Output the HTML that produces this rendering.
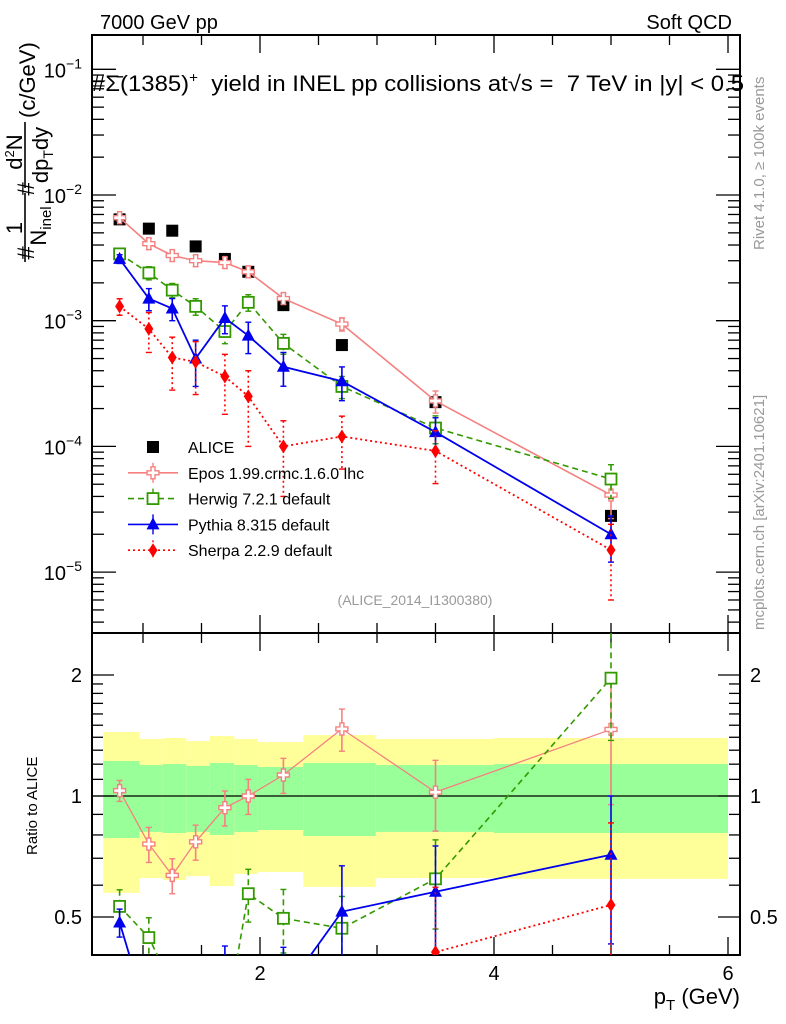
<!DOCTYPE html>
<html><head><meta charset="utf-8"><style>
html,body{margin:0;padding:0;background:#fff;overflow:hidden;width:786px;height:1024px;}
svg{display:block;font-family:"Liberation Sans",sans-serif;}
</style></head><body>
<svg id="chart" width="786" height="1024" viewBox="0 0 786 1024" xmlns="http://www.w3.org/2000/svg">
<text x="100" y="29" font-size="20">7000 GeV pp</text>
<text x="732" y="29" font-size="20" text-anchor="end">Soft QCD</text>
<text x="92" y="91" font-size="22" xml:space="preserve" textLength="652" lengthAdjust="spacingAndGlyphs">#Σ̄(1385)<tspan dy="-9" font-size="14">+</tspan><tspan dy="9">  yield in INEL pp collisions at√s =  7 TeV in |y| &lt; 0.5</tspan></text>
<text transform="translate(764,250) rotate(-90)" font-size="15" fill="#999">Rivet 4.1.0, ≥ 100k events</text>
<text transform="translate(764,630) rotate(-90)" font-size="15" fill="#999">mcplots.cern.ch [arXiv:2401.10621]</text>
<text x="415" y="605" font-size="14" fill="#999" text-anchor="middle">(ALICE_2014_I1300380)</text>
<g transform="rotate(-90)">
<text x="-253" y="34" font-size="24" text-anchor="middle">#</text>
<text x="-228" y="22" font-size="22" text-anchor="middle">1</text>
<line x1="-262" x2="-193" y1="25" y2="25" stroke="#000" stroke-width="1.6"/>
<text x="-226" y="46" font-size="22" text-anchor="middle">N<tspan font-size="15" dy="5">inel</tspan></text>
<text x="-189" y="34" font-size="24" text-anchor="middle">#</text>
<text x="-152" y="22" font-size="22" text-anchor="middle">d<tspan dy="-8" font-size="13">2</tspan><tspan dy="8">N</tspan></text>
<line x1="-188" x2="-122" y1="25" y2="25" stroke="#000" stroke-width="1.6"/>
<text x="-155" y="48" font-size="22" text-anchor="middle">dp<tspan dy="5" font-size="14">T</tspan><tspan dy="-5">dy</tspan></text>
<text x="-118" y="35" font-size="22">(c/GeV)</text>
</g>
<text transform="translate(37,855) rotate(-90)" font-size="15">Ratio to ALICE</text>
<text x="740" y="1004" font-size="22" text-anchor="end">p<tspan dy="6" font-size="15">T</tspan><tspan dy="-6"> (GeV)</tspan></text>
<g id="plots"></g>
</svg>
<script>
const pT = [0.8,1.05,1.25,1.45,1.7,1.9,2.2,2.7,3.5,5.0];
const binEdges = [0.66,0.97,1.17,1.37,1.57,1.78,1.98,2.37,2.99,4.0,6.0];
const alice = [6.4e-3,5.4e-3,5.2e-3,3.9e-3,3.1e-3,2.45e-3,1.33e-3,6.4e-4,2.25e-4,2.8e-5];
const epos = [6.6e-3,4.1e-3,3.3e-3,3.0e-3,2.9e-3,2.45e-3,1.5e-3,9.4e-4,2.3e-4,4.1e-5];
const eposErr = [0.06,0.1,0.1,0.1,0.1,0.1,0.1,0.12,0.2,0.35];
const herwig = [3.4e-3,2.4e-3,1.75e-3,1.3e-3,8.2e-4,1.4e-3,6.6e-4,3.0e-4,1.4e-4,5.5e-5];
const herwigErr = [0.1,0.12,0.13,0.15,0.2,0.15,0.18,0.2,0.25,0.3];
const pythia = [3.1e-3,1.5e-3,1.25e-3,5.0e-4,1.05e-3,7.6e-4,4.3e-4,3.3e-4,1.3e-4,2.0e-5];
const pythiaErr = [0.08,0.2,0.2,0.4,0.25,0.28,0.3,0.3,0.3,0.4];
const sherpa = [1.3e-3,8.6e-4,5.1e-4,4.7e-4,3.6e-4,2.5e-4,1.0e-4,1.2e-4,9.2e-5,1.5e-5];
const sherpaErr = [0.15,0.35,0.45,0.45,0.5,0.6,0.6,0.45,0.45,0.6];
const greenHi = [1.222,1.194,1.201,1.188,1.208,1.194,1.181,1.208,1.194,1.201];
const greenLo = [0.786,0.814,0.809,0.814,0.800,0.814,0.823,0.795,0.814,0.809];
const yellowHi = [1.443,1.386,1.394,1.370,1.410,1.386,1.362,1.418,1.386,1.394];
const yellowLo = [0.574,0.625,0.618,0.632,0.597,0.640,0.647,0.594,0.625,0.622];
const xTickLabels = ["2","4","6"];
const yTickLabels = ["10","10","10","10","10"];
const ratioTickLabels = ["0.5","1","2"];

const NS="http://www.w3.org/2000/svg";
const L=92,R=740,T=35,MB=633,RB=955;
const X=v=>26+117*v;
const Y=v=>195-125.7*(Math.log10(v)+2);
const RY=v=>796-121*Math.log2(v);
const root=document.getElementById('plots');
function mk(tag,attrs,parent){const e=document.createElementNS(NS,tag);for(const k in attrs)e.setAttribute(k,attrs[k]);(parent||root).appendChild(e);return e;}

const defs=mk('defs',{});
const c1=mk('clipPath',{id:'cm'},defs);mk('rect',{x:L,y:T,width:R-L,height:MB-T},c1);
const c2=mk('clipPath',{id:'cr'},defs);mk('rect',{x:L,y:MB,width:R-L,height:RB-MB},c2);

const bands=mk('g',{'clip-path':'url(#cr)'});


for(let i=0;i<pT.length;i++){
  const x1=X(binEdges[i]),x2=X(binEdges[i+1]);
  const yb=mk('rect',{x:x1,y:RY(yellowHi[i]),width:x2-x1,height:RY(yellowLo[i])-RY(yellowHi[i]),fill:'#ffff99'},bands);
  
  
  const gb=mk('rect',{x:x1,y:RY(greenHi[i]),width:x2-x1,height:RY(greenLo[i])-RY(greenHi[i]),fill:'#99ff99'},bands);
  
  
}
mk('line',{x1:L,x2:R,y1:RY(1),y2:RY(1),stroke:'#000','stroke-width':1.2});

function frame(top,bot,name){const f=mk('rect',{x:L,y:top,width:R-L,height:bot-top,fill:'none',stroke:'#000','stroke-width':2});}
const ax=mk('g',{stroke:'#000','stroke-width':1.3});


for(let v=0.5;v<=6.01;v+=0.5){
  const x=X(v); if(x<L||x>R)continue;
  const big=Math.abs(v/2-Math.round(v/2))<1e-6; const len=big?18:10;
  [[T,1],[MB,-1],[MB,1],[RB,-1]].forEach(([y,d])=>mk('line',{x1:x,x2:x,y1:y,y2:y+d*len},ax));
}
for(let e=-6;e<=-1;e++){for(let m=1;m<10;m++){const v=m*Math.pow(10,e);const y=Y(v);if(y<T||y>MB)continue;const len=m==1?24:12;
  mk('line',{x1:L,x2:L+len,y1:y,y2:y},ax);mk('line',{x1:R,x2:R-len,y1:y,y2:y},ax);}}
for(let i=0;i<=16;i++){const v=0.4+i*0.1;const y=RY(v);if(y<MB||y>RB)continue;const big=[0.5,1,2].some(b=>Math.abs(b-v)<1e-6);const len=big?22:11;
  mk('line',{x1:L,x2:L+len,y1:y,y2:y},ax);mk('line',{x1:R,x2:R-len,y1:y,y2:y},ax);}
frame(T,MB,'main-plot-frame');frame(MB,RB,'ratio-plot-frame');

[2,4,6].forEach((v,i)=>{const t=mk('text',{x:X(v),y:980,'font-size':20,'text-anchor':'middle'});t.textContent=xTickLabels[i];});
[-1,-2,-3,-4,-5].forEach((e,i)=>{const t=mk('text',{x:82,y:Y(Math.pow(10,e))+8,'font-size':20,'text-anchor':'end'});t.textContent=yTickLabels[i];
  const s=mk('tspan',{dy:-9,'font-size':14},t);s.textContent='−'+(-e);
  });
[0.5,1,2].forEach((v,i)=>{[[82,'end'],[750,'start']].forEach(([x,a])=>{const t=mk('text',{x:x,y:RY(v)+7,'font-size':20,'text-anchor':a});t.textContent=ratioTickLabels[i];});});

function marker(g,kind,x,y,col){
  if(kind=='sq')mk('rect',{x:x-6,y:y-6,width:12,height:12,fill:'#000'},g);
  else if(kind=='osq')mk('rect',{x:x-5.5,y:y-5.5,width:11,height:11,fill:'#fff',stroke:col,'stroke-width':1.8},g);
  else if(kind=='cross')mk('path',{d:`M${x-2} ${y-6}h4v4h4v4h-4v4h-4v-4h-4v-4h4z`,fill:'#fff',stroke:col,'stroke-width':1.4},g);
  else if(kind=='tri')mk('path',{d:`M${x} ${y-7}L${x+6.5} ${y+5}L${x-6.5} ${y+5}Z`,fill:col},g);
  else if(kind=='dia')mk('path',{d:`M${x} ${y-7}L${x+4.5} ${y}L${x} ${y+7}L${x-4.5} ${y}Z`,fill:col},g);
}
const series=[
 {name:'epos',vals:epos,err:eposErr,col:'#f58080',kind:'cross',dash:'',w:1.6},
 {name:'herwig',vals:herwig,err:herwigErr,col:'#339900',kind:'osq',dash:'6,4',w:1.6},
 {name:'pythia',vals:pythia,err:pythiaErr,col:'#0000ee',kind:'tri',dash:'',w:1.8},
 {name:'sherpa',vals:sherpa,err:sherpaErr,col:'#ff0000',kind:'dia',dash:'2,3',w:1.8},
];
function drawSeries(s,yf,clip,ratio){
  const g=mk('g',{'clip-path':clip});
  
  
  const vals=s.vals.map((v,i)=>ratio?v/alice[i]:v);
  mk('polyline',{points:vals.map((v,i)=>X(pT[i])+','+yf(v)).join(' '),fill:'none',stroke:s.col,'stroke-width':ratio&&s.name=='epos'?1.3:s.w,'stroke-dasharray':s.dash},g);
  vals.forEach((v,i)=>{const x=X(pT[i]);const y1=yf(v*(1+s.err[i])),y2=yf(Math.max(v*(1-s.err[i]),1e-9));
    mk('line',{x1:x,x2:x,y1:y1,y2:y2,stroke:s.col,'stroke-width':1.6,'stroke-dasharray':s.dash},g);
    mk('line',{x1:x-3,x2:x+3,y1:y1,y2:y1,stroke:s.col,'stroke-width':1.4},g);
    mk('line',{x1:x-3,x2:x+3,y1:y2,y2:y2,stroke:s.col,'stroke-width':1.4},g);
    marker(g,s.kind,x,yf(v),s.col);});
}
const ag=mk('g',{'clip-path':'url(#cm)'});


alice.forEach((v,i)=>marker(ag,'sq',X(pT[i]),Y(v)));
series.forEach(s=>drawSeries(s,Y,'url(#cm)',false));
series.forEach(s=>drawSeries(s,RY,'url(#cr)',true));

const legendLabels=['ALICE','Epos 1.99.crmc.1.6.0 lhc','Herwig 7.2.1 default','Pythia 8.315 default','Sherpa 2.2.9 default'];
const lg=mk('g',{});


legendLabels.forEach((lab,i)=>{
  const y=447+i*25.8;const e=mk('g',{},lg);
  
  
  if(i==0)marker(e,'sq',153,y);
  else{const s=series[i-1];mk('line',{x1:128,x2:178,y1:y,y2:y,stroke:s.col,'stroke-width':1.6,'stroke-dasharray':s.dash},e);
    mk('line',{x1:153,x2:153,y1:y-10,y2:y+10,stroke:s.col,'stroke-width':1.4,'stroke-dasharray':s.dash},e);marker(e,s.kind,153,y,s.col);}
  const t=mk('text',{x:188,y:y+6,'font-size':16},e);t.textContent=lab;
});
</script>
</body></html>
